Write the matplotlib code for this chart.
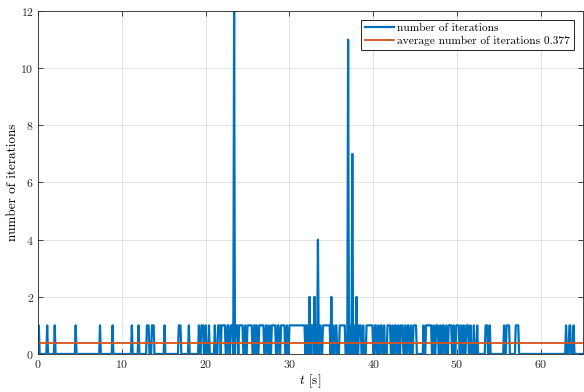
import numpy as np
import matplotlib
matplotlib.use("Agg")
import matplotlib.pyplot as plt

# --- data ---
dt = 0.1
t_end = 65.0
# runs (start, end) in seconds where the iteration count is 1
one_runs = [
    (0.0, 0.1), (1.1, 1.1), (2.0, 2.0), (4.5, 4.5), (7.4, 7.4), (8.9, 8.9),
    (11.2, 11.2), (12.0, 12.0), (13.0, 13.2), (13.6, 13.8), (15.1, 15.1),
    (16.8, 17.0), (18.0, 18.0), (19.2, 19.2), (19.5, 19.7), (20.0, 20.0),
    (20.4, 20.4), (21.1, 21.1),
    (21.5, 21.7), (21.9, 22.3), (22.6, 22.7), (23.0, 23.2), (23.6, 23.8),
    (24.0, 24.4), (24.7, 24.7), (25.0, 25.5), (25.8, 25.9), (26.1, 26.1),
    (26.4, 26.9), (27.2, 27.3), (27.6, 27.6), (27.9, 28.3), (28.6, 28.7),
    (29.0, 29.4), (29.7, 29.7), (30.0, 31.8),
    (32.0, 32.1), (32.6, 32.8), (33.2, 33.2), (33.6, 33.7), (34.0, 34.8),
    (35.2, 35.2), (35.5, 35.6), (36.0, 36.6), (37.2, 37.2), (37.7, 37.7),
    (38.3, 38.5), (38.8, 38.8), (39.2, 39.9), (40.2, 40.3), (40.6, 40.6),
    (40.9, 41.0), (41.3, 41.3), (41.7, 42.0), (42.3, 42.3), (42.6, 42.7),
    (43.0, 43.0), (43.3, 43.5), (43.8, 43.8), (44.1, 44.2), (44.5, 44.5),
    (44.8, 45.1), (46.0, 46.0), (46.3, 46.9), (47.2, 47.2), (47.5, 47.7),
    (48.0, 48.0), (48.3, 48.4), (48.7, 48.7), (49.0, 49.3), (49.6, 49.6),
    (49.9, 50.2), (50.5, 50.5), (50.8, 50.8), (51.1, 51.3), (51.6, 51.6),
    (52.0, 52.0), (52.4, 52.4), (53.4, 53.6), (53.9, 53.9), (55.6, 55.6),
    (55.9, 56.2), (57.0, 57.3), (63.0, 63.0), (63.4, 63.5), (63.9, 63.9),
]
# isolated samples with more than one iteration
spike_t = [23.4, 32.4, 33.0, 33.4, 35.0, 37.0, 37.5, 38.0]
spike_n = [12, 2, 2, 4, 2, 11, 7, 2]
avg_iter = 0.377

t = np.round(np.arange(0, t_end + dt / 2, dt), 1)
n = np.zeros_like(t)
for a, b in one_runs:
    n[(t >= a - 1e-6) & (t <= b + 1e-6)] = 1
for ts, v in zip(spike_t, spike_n):
    n[np.argmin(np.abs(t - ts))] = v

plt.rcParams["font.family"] = "serif"
plt.rcParams["font.serif"] = ["cmr10"]
plt.rcParams["mathtext.fontset"] = "cm"
plt.rcParams["axes.formatter.use_mathtext"] = True

fig = plt.figure(figsize=(5.84, 3.92), dpi=100)
ax = fig.add_axes([0.065, 0.097, 0.933, 0.875])

ax.plot(t, n, color="#0072BD", lw=1.6, label="number of iterations")
ax.plot([t[0], t[-1]], [avg_iter, avg_iter], color="#D95319", lw=1.3,
        label="average number of iterations %.3f" % avg_iter)

ax.set_xlim(0, 65)
ax.set_ylim(0, 12)
ax.set_xticks(range(0, 61, 10))
ax.set_yticks(range(0, 13, 2))
ax.grid(True, color="#dedede", lw=0.6)
ax.set_axisbelow(True)
ax.tick_params(direction="in", top=True, right=True, length=3.5, width=0.6,
               labelsize=8.5, colors="#262626", pad=3)
for s in ax.spines.values():
    s.set_color("#262626")
    s.set_linewidth(0.6)

ax.set_xlabel("$t$ [s]", fontsize=9.5, labelpad=2)
ax.set_ylabel("number of iterations", fontsize=9.5, labelpad=1)

leg = ax.legend(loc="upper right", fontsize=8.2, fancybox=False, framealpha=1,
                edgecolor="black", handlelength=2.55, borderaxespad=0.75,
                borderpad=0.35, labelspacing=0.25, handletextpad=0.3)
leg.get_frame().set_linewidth(0.6)

fig.savefig("out.png", dpi=100)
